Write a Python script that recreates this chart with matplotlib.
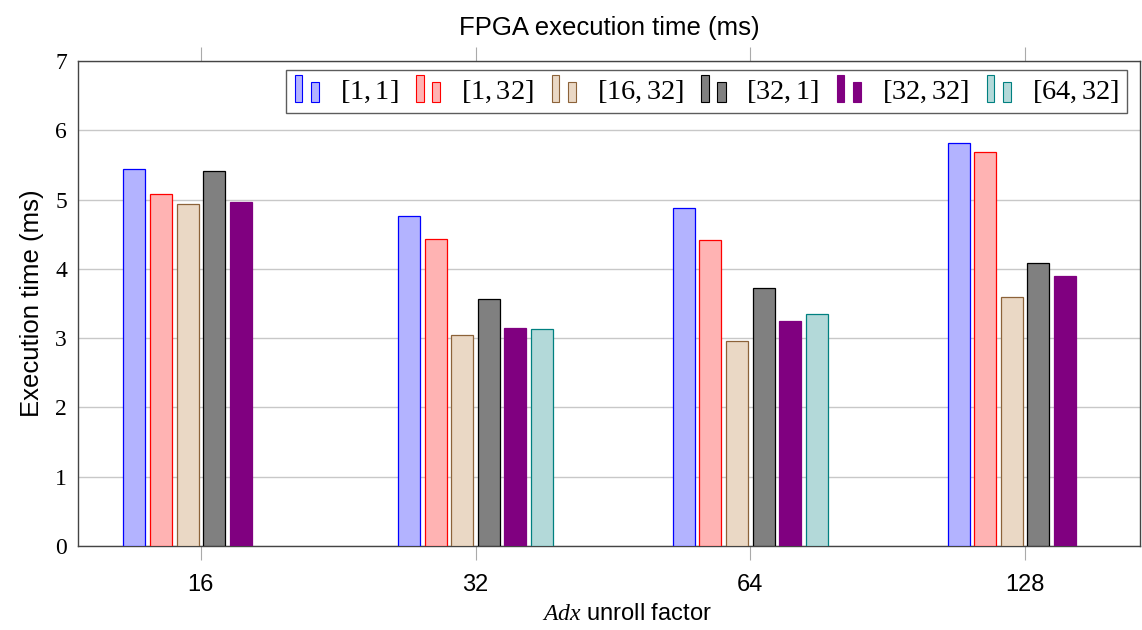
import matplotlib
matplotlib.use("Agg")
import matplotlib.pyplot as plt
import numpy as np
from matplotlib.legend_handler import HandlerBase
from matplotlib.patches import Rectangle

plt.rcParams['font.family'] = ['Liberation Sans', 'DejaVu Sans']
plt.rcParams['mathtext.fontset'] = 'custom'
plt.rcParams['mathtext.rm'] = 'Liberation Serif'
plt.rcParams['mathtext.it'] = 'Liberation Serif:italic'

# data
factors = ['16', '32', '64', '128']
configs = ['$[1,1]$', '$[1,32]$', '$[16,32]$', '$[32,1]$', '$[32,32]$', '$[64,32]$']
t_1_1 = [5.44, 4.76, 4.88, 5.82]
t_1_32 = [5.08, 4.43, 4.42, 5.68]
t_16_32 = [4.94, 3.04, 2.96, 3.59]
t_32_1 = [5.41, 3.56, 3.72, 4.08]
t_32_32 = [4.96, 3.15, 3.25, 3.90]
t_64_32 = [np.nan, 3.13, 3.35, np.nan]
series = [t_1_1, t_1_32, t_16_32, t_32_1, t_32_32, t_64_32]

fills = ['#b3b3ff', '#ffb3b3', '#ead8c5', '#808080', '#800080', '#b3d9d9']
edges = ['#0000ff', '#ff0000', '#8c6239', '#000000', '#800080', '#008080']


# pgfplots style legend image: two little bars
class TwoBars(HandlerBase):
    def create_artists(self, legend, orig, xd, yd, w, h, fs, trans):
        fc = orig.get_facecolor()
        ec = orig.get_edgecolor()
        r1 = Rectangle((xd, yd - 0.15 * h), 0.3 * w, 1.35 * h,
                       facecolor=fc, edgecolor=ec, lw=0.8, transform=trans)
        r2 = Rectangle((xd + 0.64 * w, yd - 0.15 * h), 0.33 * w, 1.0 * h,
                       facecolor=fc, edgecolor=ec, lw=0.8, transform=trans)
        return [r1, r2]


fig = plt.figure(figsize=(11.42, 6.30), dpi=100)
ax = fig.add_axes([0.0683, 0.1333, 0.9299, 0.7699])

x = np.arange(len(factors))
step = 0.0967
width = 0.08
handles = []
for i, vals in enumerate(series):
    b = ax.bar(x + (i - 2.5) * step, vals, width, color=fills[i],
               edgecolor=edges[i], linewidth=0.9, label=configs[i], zorder=3)
    handles.append(b.patches[0] if not np.isnan(vals[0]) else b.patches[1])

ax.set_xlim(-0.447, 3.418)
ax.set_ylim(0, 7)
ax.set_xticks(x)
ax.set_xticklabels(factors, fontsize=17)
ax.set_yticks(range(8))
ax.set_yticklabels([str(v) for v in range(8)], fontsize=17, family='Liberation Serif')
ax.tick_params(axis='x', direction='out', length=10, color='#aaaaaa', top=True, pad=10)
ax.tick_params(axis='y', length=0, pad=8)
ax.yaxis.grid(True, color='#c8c8c8', lw=1.0, zorder=0)
for s in ax.spines.values():
    s.set_color('#444444')
    s.set_linewidth(1.0)

ax.set_title('FPGA execution time (ms)', fontsize=18.5, pad=19)
ax.set_ylabel('Execution time (ms)', fontsize=18.5, labelpad=8)
ax.set_xlabel('$Adx$ unroll factor', fontsize=17)
ax.xaxis.set_label_coords(0.517, -0.118)

leg = ax.legend(handles, configs,
                handler_map={h: TwoBars() for h in handles},
                ncol=6, loc='upper right', bbox_to_anchor=(0.988, 0.981),
                borderaxespad=0, fontsize=20.5, frameon=True, fancybox=False,
                edgecolor='#333333', handlelength=0.88, handletextpad=0.7,
                columnspacing=0.62, borderpad=0.3)
leg.get_frame().set_linewidth(1.0)

fig.savefig('out.png', dpi=100)
